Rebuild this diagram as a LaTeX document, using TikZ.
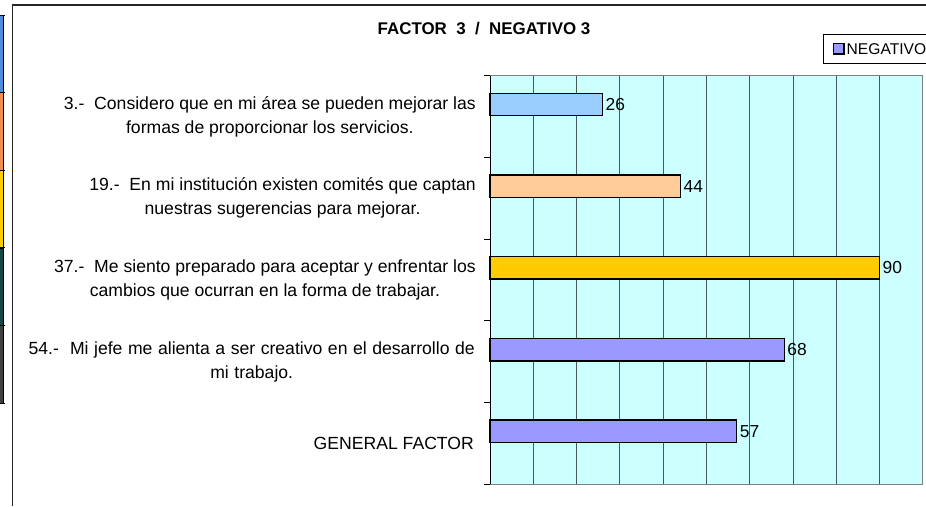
\documentclass[tikz,border=0pt]{standalone}
\usepackage{fontspec}
\setmainfont{Liberation Sans}
\definecolor{plotbg}{RGB}{204,255,255}
\definecolor{barblue}{RGB}{153,204,255}
\definecolor{barpeach}{RGB}{255,204,153}
\definecolor{bargold}{RGB}{255,204,0}
\definecolor{barlav}{RGB}{153,153,255}
\definecolor{gridgray}{RGB}{70,90,90}
\definecolor{stripblue}{RGB}{80,140,220}
\definecolor{striporange}{RGB}{240,140,80}
\definecolor{stripteal}{RGB}{20,70,70}

\begin{document}
\begin{tikzpicture}[x=1pt,y=-1pt,
    bar/.style={draw=black,line width=1.4pt},
    qlabel/.style={anchor=east,align=center,inner sep=0pt,font=\fontsize{17.6}{24}\selectfont},
    vlabel/.style={anchor=west,inner sep=0pt,font=\fontsize{17.4}{20}\selectfont}]
        \useasboundingbox (0,0) rectangle (926,506);
        \clip (0,0) rectangle (926,506);

        % The edge of the chart next to this one
        \foreach \c [count=\i from 0] in {stripblue,striporange,bargold,stripteal,black!75} {
            \draw[fill=\c,line width=0.6pt] (-1,15+77.6*\i) rectangle (3,15+77.6*\i+77.6);
            \draw[line width=0.8pt] (0,15+77.6*\i) -- (5,15+77.6*\i);
        }
        \draw[line width=0.8pt] (0,403) -- (5,403);

        % The frame
        \draw[line width=1.2pt,black!85] (12.5,506) -- (12.5,5) -- (930,5);

        % The title
        \node[font=\fontsize{16.9}{20}\selectfont\bfseries] (title) at (484,29) {FACTOR\ \ 3\ \ /\ \ NEGATIVO 3};

        % The legend
        \draw[line width=0.8pt] (823,34) rectangle (940,63);
        \draw[bar,fill=barlav,line width=1.2pt] (833.5,43.5) rectangle (844,54);
        \node[anchor=west,inner sep=0pt,font=\fontsize{15.6}{18}\selectfont] (legend) at (846.5,49) {NEGATIVO};

        % The plot area
        \fill[plotbg] (490,75.7) rectangle (922.7,484.3);
        \foreach \k in {1,...,9}
            \draw[gridgray,line width=0.8pt] (490+43.27*\k,75.7) -- (490+43.27*\k,484.3);
        \draw[black!50,line width=1.4pt] (490,75.7) -- (922.7,75.7) -- (922.7,484.3) -- (490,484.3);
        \draw[line width=1pt] (490,75.7) -- (490,484.3);
        \foreach \k in {0,...,5}
            \draw[line width=1pt] (484,75.7+81.72*\k) -- (490,75.7+81.72*\k);

        % The bars and their values
        \foreach \v/\c [count=\i from 0] in {26/barblue,44/barpeach,90/bargold,68/barlav,57/barlav} {
            \draw[bar,fill=\c] (490,93.2+81.72*\i) rectangle (490+4.327*\v,115.7+81.72*\i);
            \node[vlabel] (val\i) at (493+4.327*\v,104.5+81.72*\i) {\v};
        }

        % The questions
        \node[qlabel] (q3) at (476,116.5) {3.-\ \ Considero que en mi área se pueden mejorar las\\formas de proporcionar los servicios.};
        \node[qlabel] (q19) at (476,198.3) {19.-\ \ En mi institución existen comités que captan\\nuestras sugerencias para mejorar.};
        \node[qlabel] (q37) at (476,280) {37.-\ \ Me siento preparado para aceptar y enfrentar los\\cambios que ocurran en la forma de trabajar.};
        \node[qlabel,font=\fontsize{17.6}{24}\selectfont\spaceskip 5.55pt\relax] (q54) at (475,361.7) {54.-\ \ Mi jefe me alienta a ser creativo en el desarrollo de\\mi trabajo.};
        \node[qlabel] (gen) at (474,443.4) {GENERAL FACTOR};
    \end{tikzpicture}
\end{document}
